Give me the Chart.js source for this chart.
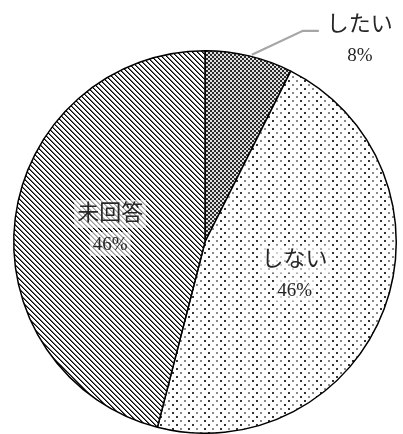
<!DOCTYPE html>
<html>
<head>
<meta charset="utf-8">
<script src="https://cdn.jsdelivr.net/npm/chart.js@4"></script>
<style>
html,body{margin:0;padding:0;background:#fff;}
#wrap{width:403px;height:434px;position:relative;}
</style>
</head>
<body>
<div id="wrap"><canvas id="c" width="403" height="434"></canvas></div>
<script>
const categories = ["したい", "しない", "未回答"];
const values = [7.4, 46.6, 46.0];
const valueLabels = ["8%", "46%", "46%"];

function makePattern(kind) {
  const c = document.createElement('canvas');
  const g = c.getContext('2d');
  if (kind === 'check') {
    c.width = 4; c.height = 4;
    g.fillStyle = '#e0e0e0'; g.fillRect(0,0,4,4);
    g.fillStyle = '#2a2a2a'; g.fillRect(0,0,2,2); g.fillRect(2,2,2,2);
  } else if (kind === 'dots') {
    c.width = 16; c.height = 8;
    g.fillStyle = '#fff'; g.fillRect(0,0,16,8);
    g.fillStyle = '#333'; g.fillRect(0,0,2,2); g.fillRect(12,4,2,2);
    g.fillStyle = '#8a8a8a'; g.fillRect(8,0,2,2); g.fillRect(4,4,2,2);
  } else {
    c.width = 5; c.height = 5;
    g.fillStyle = '#fff'; g.fillRect(0,0,5,5);
    for (let i = 0; i < 5; i++) {
      g.fillStyle = '#000'; g.fillRect(i, i, 1, 1);
      g.fillStyle = '#6a6a6a'; g.fillRect((i + 1) % 5, i, 1, 1);
    }
  }
  return g.createPattern(c, 'repeat');
}

const ctx0 = document.getElementById('c').getContext('2d');
const fills = [makePattern('check'), makePattern('dots'), makePattern('diag')];

const JP = '"Noto Sans CJK JP", "Liberation Serif", serif';
const NUM = '"Liberation Serif", "DejaVu Serif", serif';

function drawLabel(ctx, cx, cy, name, pct, bg) {
  ctx.save();
  ctx.textAlign = 'center';
  ctx.textBaseline = 'middle';
  ctx.font = '22px ' + JP;
  const w1 = ctx.measureText(name).width;
  ctx.font = '19px ' + NUM;
  const w2 = ctx.measureText(pct).width;
  if (bg) {
    ctx.fillStyle = 'rgba(255,255,255,0.6)';
    ctx.fillRect(cx - w1/2 - 3, cy - 30, w1 + 6, 28);
    ctx.fillRect(cx - w2/2 - 3, cy + 2, w2 + 6, 24);
  }
  ctx.fillStyle = '#262626';
  ctx.font = '22px ' + JP;
  ctx.fillText(name, cx, cy - 18);
  ctx.font = '19px ' + NUM;
  ctx.fillText(pct, cx, cy + 15);
  ctx.restore();
}

const labelPlugin = {
  id: 'pieLabels',
  afterDatasetsDraw(chart) {
    const ctx = chart.ctx;
    const meta = chart.getDatasetMeta(0);
    meta.data.forEach((arc, i) => {
      const p = arc.getProps(['x','y','startAngle','endAngle','outerRadius'], true);
      const mid = (p.startAngle + p.endAngle) / 2;
      if (i === 0) {
        const r = p.outerRadius;
        const sx = p.x + Math.cos(mid) * (r - 1) + 3;
        const sy = p.y + Math.sin(mid) * (r - 1) - 2;
        ctx.save();
        ctx.strokeStyle = '#a6a6a6';
        ctx.lineWidth = 2.2;
        ctx.beginPath();
        ctx.moveTo(sx, sy);
        ctx.lineTo(sx + 51, sy - 24);
        ctx.lineTo(sx + 67, sy - 24);
        ctx.stroke();
        ctx.restore();
        drawLabel(ctx, sx + 108, sy - 14, categories[i], valueLabels[i], false);
      } else {
        const rr = p.outerRadius * 0.5;
        drawLabel(ctx, p.x + Math.cos(mid) * rr, p.y + Math.sin(mid) * rr, categories[i], valueLabels[i], true);
      }
    });
  }
};

new Chart(ctx0, {
  type: 'pie',
  data: {
    labels: categories,
    datasets: [{
      data: values,
      backgroundColor: fills,
      borderColor: '#000',
      borderWidth: 1.5
    }]
  },
  options: {
    responsive: false,
    animation: false,
    layout: { padding: { left: 13, right: 6, top: 50, bottom: 0 } },
    plugins: { legend: { display: false }, tooltip: { enabled: false } }
  },
  plugins: [labelPlugin]
});
</script>
</body>
</html>
